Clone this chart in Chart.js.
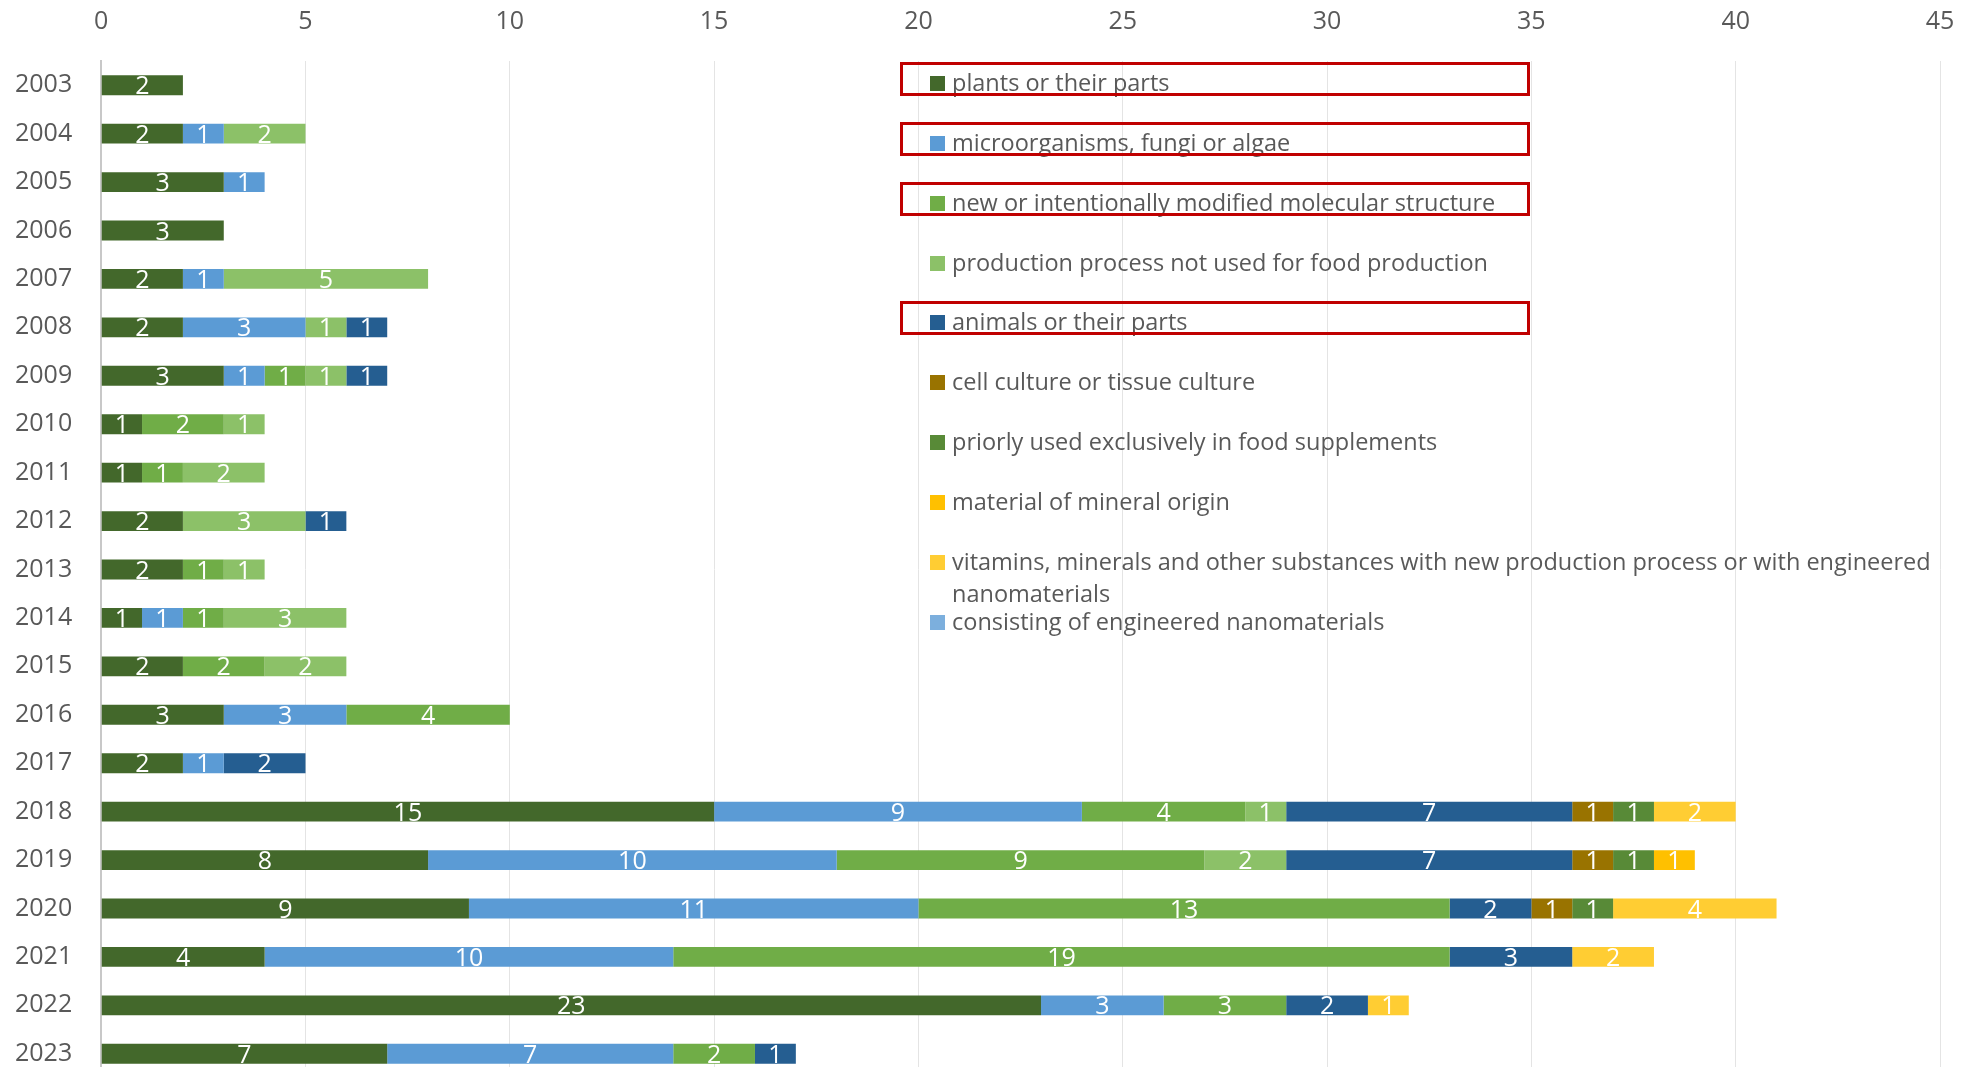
<!DOCTYPE html>
<html>
<head>
<meta charset="utf-8">
<script src="https://cdn.jsdelivr.net/npm/chart.js@4/dist/chart.umd.min.js"></script>
<style>
  html, body { margin: 0; padding: 0; background: #fff; overflow: hidden; }
  #wrap { position: relative; width: 1969px; height: 1078px; }
  #legend { position: absolute; left: 0; top: 0; font-family: "Open Sans", sans-serif; font-size: 23.5px; color: #595959; }
  .item { position: absolute; left: 930px; display: flex; align-items: flex-start; }
  .swatch { width: 15px; height: 15px; margin-top: 10px; margin-right: 7px; flex: none; }
  .txt { width: 990px; line-height: 32px; }
  .mark { position: absolute; left: 900px; width: 624px; height: 28px; border: 3px solid #C00000; }
</style>
</head>
<body>
<div id="wrap">
  <canvas id="grafico"></canvas>
  <div id="legend"></div>
</div>
<script>
// Categorias (años)
var years = ['2003','2004','2005','2006','2007','2008','2009','2010','2011','2012','2013',
             '2014','2015','2016','2017','2018','2019','2020','2021','2022','2023'];

// Valores por serie
var plants     = [2,2,3,3,2,2,3,1,1,2,2,1,2,3,2,15,8,9,4,23,7];
var micro      = [0,1,1,0,1,3,1,0,0,0,0,1,0,3,1,9,10,11,10,3,7];
var newStruct  = [0,0,0,0,0,0,1,2,1,0,1,1,2,4,0,4,9,13,19,3,2];
var production = [0,2,0,0,5,1,1,1,2,3,1,3,2,0,0,1,2,0,0,0,0];
var animals    = [0,0,0,0,0,1,1,0,0,1,0,0,0,0,2,7,7,2,3,2,1];
var cell       = [0,0,0,0,0,0,0,0,0,0,0,0,0,0,0,1,1,1,0,0,0];
var priorly    = [0,0,0,0,0,0,0,0,0,0,0,0,0,0,0,1,1,1,0,0,0];
var mineral    = [0,0,0,0,0,0,0,0,0,0,0,0,0,0,0,0,1,0,0,0,0];
var vitamins   = [0,0,0,0,0,0,0,0,0,0,0,0,0,0,0,2,0,4,2,1,0];
var nano       = [0,0,0,0,0,0,0,0,0,0,0,0,0,0,0,0,0,0,0,0,0];

// Etiquetas del eje x
var xTicks = [0,5,10,15,20,25,30,35,40,45];

// Series de la leyenda
var seriesNames = [
  'plants or their parts',
  'microorganisms, fungi or algae',
  'new or intentionally modified molecular structure',
  'production process not used for food production',
  'animals or their parts',
  'cell culture or tissue culture',
  'priorly used exclusively in food supplements',
  'material of mineral origin',
  'vitamins, minerals and other substances with new production process or with engineered nanomaterials',
  'consisting of engineered nanomaterials'
];
var seriesData = [plants, micro, newStruct, production, animals, cell, priorly, mineral, vitamins, nano];
var seriesColors = ['#43682B','#5B9BD5','#70AD47','#8CC168','#255E91','#997300','#588A37','#FFC000','#FFCD33','#7CAFDD'];
// Elementos marcados en rojo en la leyenda
var highlighted = [0, 1, 2, 4];

var font = '"Open Sans", sans-serif';

// Plugin para escribir los valores dentro de cada segmento
var valueLabels = {
  id: 'valueLabels',
  afterDatasetsDraw: function(chart) {
    var ctx = chart.ctx;
    ctx.save();
    ctx.fillStyle = '#ffffff';
    ctx.font = '25px ' + font;
    ctx.textAlign = 'center';
    ctx.textBaseline = 'middle';
    chart.data.datasets.forEach(function(ds, i) {
      var meta = chart.getDatasetMeta(i);
      meta.data.forEach(function(bar, j) {
        var v = ds.data[j];
        if (!v) return;
        ctx.fillText(String(v), (bar.x + bar.base) / 2, bar.y + 2);
      });
    });
    ctx.restore();
  }
};

// Quitar el relleno extra que Chart.js agrega por las etiquetas
function sinRelleno(axis) {
  axis.paddingTop = 0;
  axis.paddingBottom = 0;
  axis.paddingLeft = 0;
  axis.paddingRight = 0;
}

var datasets = seriesNames.map(function(name, i) {
  return {
    label: name,
    data: seriesData[i].map(function(v) { return v > 0 ? v : null; }),
    backgroundColor: seriesColors[i],
    borderWidth: 0,
    categoryPercentage: 1,
    barPercentage: 0.41
  };
});

var ctx = document.getElementById('grafico').getContext('2d');
var grafico = new Chart(ctx, {
  type: 'bar',
  data: { labels: years, datasets: datasets },
  options: {
    indexAxis: 'y',
    responsive: true,
    maintainAspectRatio: false,
    animation: false,
    layout: { padding: { top: 7, right: 29, left: 15, bottom: 0 } },
    plugins: { legend: { display: false }, tooltip: { enabled: false } },
    scales: {
      x: {
        position: 'top',
        stacked: true,
        min: 0,
        max: 45,
        afterBuildTicks: function(axis) {
          axis.ticks = xTicks.map(function(v) { return { value: v }; });
        },
        afterFit: sinRelleno,
        grid: { color: '#E4E4E4', lineWidth: 1, drawTicks: true, tickLength: 24, tickColor: 'rgba(0,0,0,0)' },
        border: { display: false },
        ticks: { color: '#595959', font: { family: font, size: 25 }, padding: 0 }
      },
      y: {
        stacked: true,
        afterFit: sinRelleno,
        grid: { display: false, drawTicks: true, tickLength: 29 },
        border: { color: '#C8C8C8', width: 2 },
        ticks: { color: '#595959', font: { family: font, size: 25 }, padding: 0 }
      }
    }
  },
  plugins: [valueLabels]
});

// Leyenda en HTML
var legend = document.getElementById('legend');
seriesNames.forEach(function(name, i) {
  var center = 84 + i * 59.85;
  var item = document.createElement('div');
  item.className = 'item';
  item.style.top = (center - 18) + 'px';
  item.innerHTML = '<div class="swatch" style="background:' + seriesColors[i] + '"></div><div class="txt">' + name + '</div>';
  legend.appendChild(item);
  if (highlighted.indexOf(i) >= 0) {
    var box = document.createElement('div');
    box.className = 'mark';
    box.style.top = (center - 22) + 'px';
    legend.appendChild(box);
  }
});
</script>
</body>
</html>
